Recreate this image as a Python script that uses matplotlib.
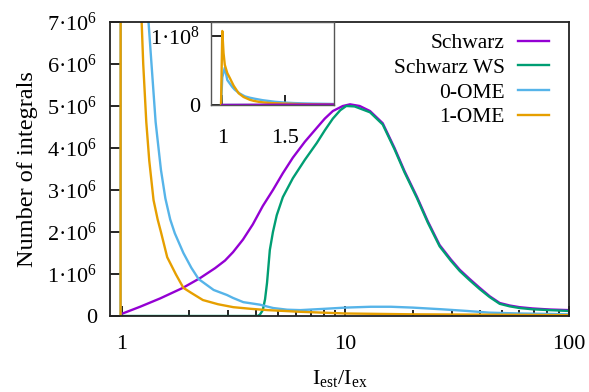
import matplotlib
matplotlib.use("Agg")
import matplotlib.pyplot as plt
import numpy as np
from matplotlib.ticker import FixedLocator, FuncFormatter, NullFormatter

# =============================================================================
# Data (y values in units of 1e6 integrals)
# =============================================================================

schwarz_x = [1.0, 1.21, 1.49, 1.88, 2.24, 2.62, 2.9, 3.15, 3.49, 3.86, 4.28, 4.75,
             5.26, 5.83, 6.6, 7.46, 8.1, 8.8, 9.75, 10.5, 11.6, 12.9, 14.7, 16.6,
             18.4, 20.9, 23.4, 26.4, 29.6, 32.5, 36.0, 39.9, 44.2, 49.0, 54.3,
             60.1, 68.7, 81.9, 100]
schwarz_y = [0.05, 0.22, 0.42, 0.67, 0.9, 1.14, 1.32, 1.52, 1.82, 2.18, 2.62, 3.0,
             3.4, 3.77, 4.15, 4.48, 4.7, 4.88, 5.0, 5.04, 5.0, 4.88, 4.59, 4.0,
             3.45, 2.84, 2.25, 1.69, 1.35, 1.1, 0.88, 0.67, 0.47, 0.31, 0.25,
             0.21, 0.18, 0.155, 0.14]

ws_x = [1.0, 2.0, 3.0, 4.05, 4.15, 4.28, 4.38, 4.47, 4.6, 4.75, 4.94, 5.26, 5.83,
        6.6, 7.46, 8.1, 8.8, 9.5, 10.1, 11.0, 12.9, 14.7, 16.6, 18.4, 20.9, 23.4,
        26.4, 29.6, 32.5, 36.0, 39.9, 44.2, 49.0, 54.3, 60.1, 68.7, 81.9, 100]
ws_y = [0.0, 0.0, 0.0, 0.0, 0.03, 0.14, 0.4, 0.79, 1.57, 2.0, 2.4, 2.83, 3.28,
        3.72, 4.12, 4.42, 4.7, 4.9, 5.0, 4.99, 4.85, 4.56, 3.97, 3.42, 2.81, 2.22,
        1.66, 1.32, 1.07, 0.85, 0.64, 0.45, 0.29, 0.23, 0.19, 0.16, 0.14, 0.12]

ome0_x = [0.99, 1.0, 1.02, 1.04, 1.06, 1.08, 1.1, 1.14, 1.18, 1.22, 1.26, 1.32,
          1.42, 1.5, 1.57, 1.65, 1.73, 1.89, 2.05, 2.21, 2.58, 2.96, 3.15, 3.5,
          4.15, 4.76, 5.5, 6.3, 8, 10, 13, 16, 20, 27, 35, 44, 60, 80, 100]
ome0_y = [0.0, 40, 54, 36, 31, 26, 22, 16.5, 12.5, 10.5, 9, 7.0,
          4.62, 3.48, 2.8, 2.3, 1.97, 1.5, 1.15, 0.88, 0.62, 0.5, 0.43, 0.33,
          0.27, 0.19, 0.15, 0.14, 0.17, 0.2, 0.22, 0.22, 0.2, 0.16, 0.12, 0.08,
          0.06, 0.05, 0.04]

ome1_x = [0.99, 1.0, 1.01, 1.02, 1.04, 1.06, 1.09, 1.13, 1.17, 1.22, 1.25, 1.29,
          1.33, 1.39, 1.45, 1.5, 1.6, 1.75, 1.89, 2.05, 2.31, 2.7, 3.16, 3.8,
          4.5, 6.3, 10, 20, 50, 100]
ome1_y = [0.0, 107, 75, 58, 46, 39, 28, 17, 11.5, 7.5, 6.0, 4.62,
          3.7, 2.76, 2.3, 2.0, 1.4, 0.99, 0.67, 0.55, 0.38, 0.28, 0.21, 0.17,
          0.14, 0.1, 0.06, 0.04, 0.03, 0.02]

labels = ['Schwarz', 'Schwarz WS', '0-OME', '1-OME']
colors = ['#9400d3', '#009e73', '#56b4e9', '#e69f00']
series = [(schwarz_x, schwarz_y), (ws_x, ws_y), (ome0_x, ome0_y), (ome1_x, ome1_y)]

# =============================================================================
# Style
# =============================================================================

fs = 16
plt.rcParams['font.family'] = 'Liberation Serif'
plt.rcParams['mathtext.fontset'] = 'custom'
plt.rcParams['mathtext.rm'] = 'Liberation Serif'
plt.rcParams['mathtext.it'] = 'Liberation Serif:italic'
plt.rcParams['font.size'] = fs

W, H = 589, 392
fig = plt.figure(figsize=(W / 100, H / 100), dpi=100)
fig.set_facecolor('w')

ax = fig.add_axes([110 / W, (H - 316) / H, 459 / W, 294 / H])

for (x, y), c, lab in zip(series, colors, labels):
    ax.plot(x, np.array(y) * 1e6, color=c, linewidth=1.7, label=lab)

ax.set_xscale('log')
ax.set_xlim(0.888, 100)
ax.set_ylim(0, 7e6)

ax.xaxis.set_major_locator(FixedLocator([1, 10, 100]))
ax.xaxis.set_major_formatter(FuncFormatter(lambda v, _: '%g' % v))
ax.xaxis.set_minor_locator(FixedLocator([2, 3, 4, 5, 6, 7, 8, 9, 20, 30, 40, 50, 60, 70, 80, 90]))
ax.xaxis.set_minor_formatter(NullFormatter())
ax.yaxis.set_major_locator(FixedLocator(np.arange(0, 8) * 1e6))
ax.yaxis.set_major_formatter(FuncFormatter(
    lambda v, _: '0' if v == 0 else '%d·10$^{6}$' % round(v / 1e6)))

ax.tick_params(axis='both', which='major', direction='in', length=7, width=1.2, labelsize=fs)
ax.tick_params(axis='x', which='major', pad=14)
ax.tick_params(axis='y', which='major', pad=9)
ax.tick_params(axis='x', which='minor', direction='in', length=4, width=1.2)
for s in ax.spines.values():
    s.set_linewidth(1.3)
    s.set_color('#222222')

ax.set_xlabel(r'I$_{\rm est}$/I$_{\rm ex}$', fontsize=fs, labelpad=10)
ax.set_ylabel('Number of integrals', fontsize=17.5, labelpad=7)

leg = ax.legend(loc='upper right', bbox_to_anchor=(549 / W, (H - 33) / H),
                bbox_transform=fig.transFigure, frameon=False, markerfirst=False,
                handlelength=1.45, handletextpad=0.6, labelspacing=0.22,
                borderpad=0, borderaxespad=0, fontsize=15.5)

# =============================================================================
# Inset: linear zoom near 1
# =============================================================================

ax_in = fig.add_axes([211 / W, (H - 105) / H, 123 / W, 83 / H])
ax_in.set_facecolor('w')
for i in [1, 2, 3, 0]:
    x, y = series[i]
    ax_in.plot(x, np.array(y) * 1e6, color=colors[i], linewidth=1.7)

ax_in.set_xlim(0.91, 1.89)
ax_in.set_ylim(0, 1.2e8)
ax_in.xaxis.set_major_locator(FixedLocator([1, 1.5]))
ax_in.xaxis.set_major_formatter(FuncFormatter(lambda v, _: '%g' % v))
ax_in.yaxis.set_major_locator(FixedLocator([0, 1e8]))
ax_in.yaxis.set_major_formatter(FuncFormatter(
    lambda v, _: '0' if v == 0 else '1·10$^{8}$'))
ax_in.tick_params(axis='both', direction='in', length=7, width=1.2, labelsize=fs)
ax_in.tick_params(axis='x', pad=17)
ax_in.tick_params(axis='y', pad=8)
for s in ax_in.spines.values():
    s.set_linewidth(1.0)
    s.set_color('#555555')

plt.savefig('out.png', dpi=100)
print("done")
